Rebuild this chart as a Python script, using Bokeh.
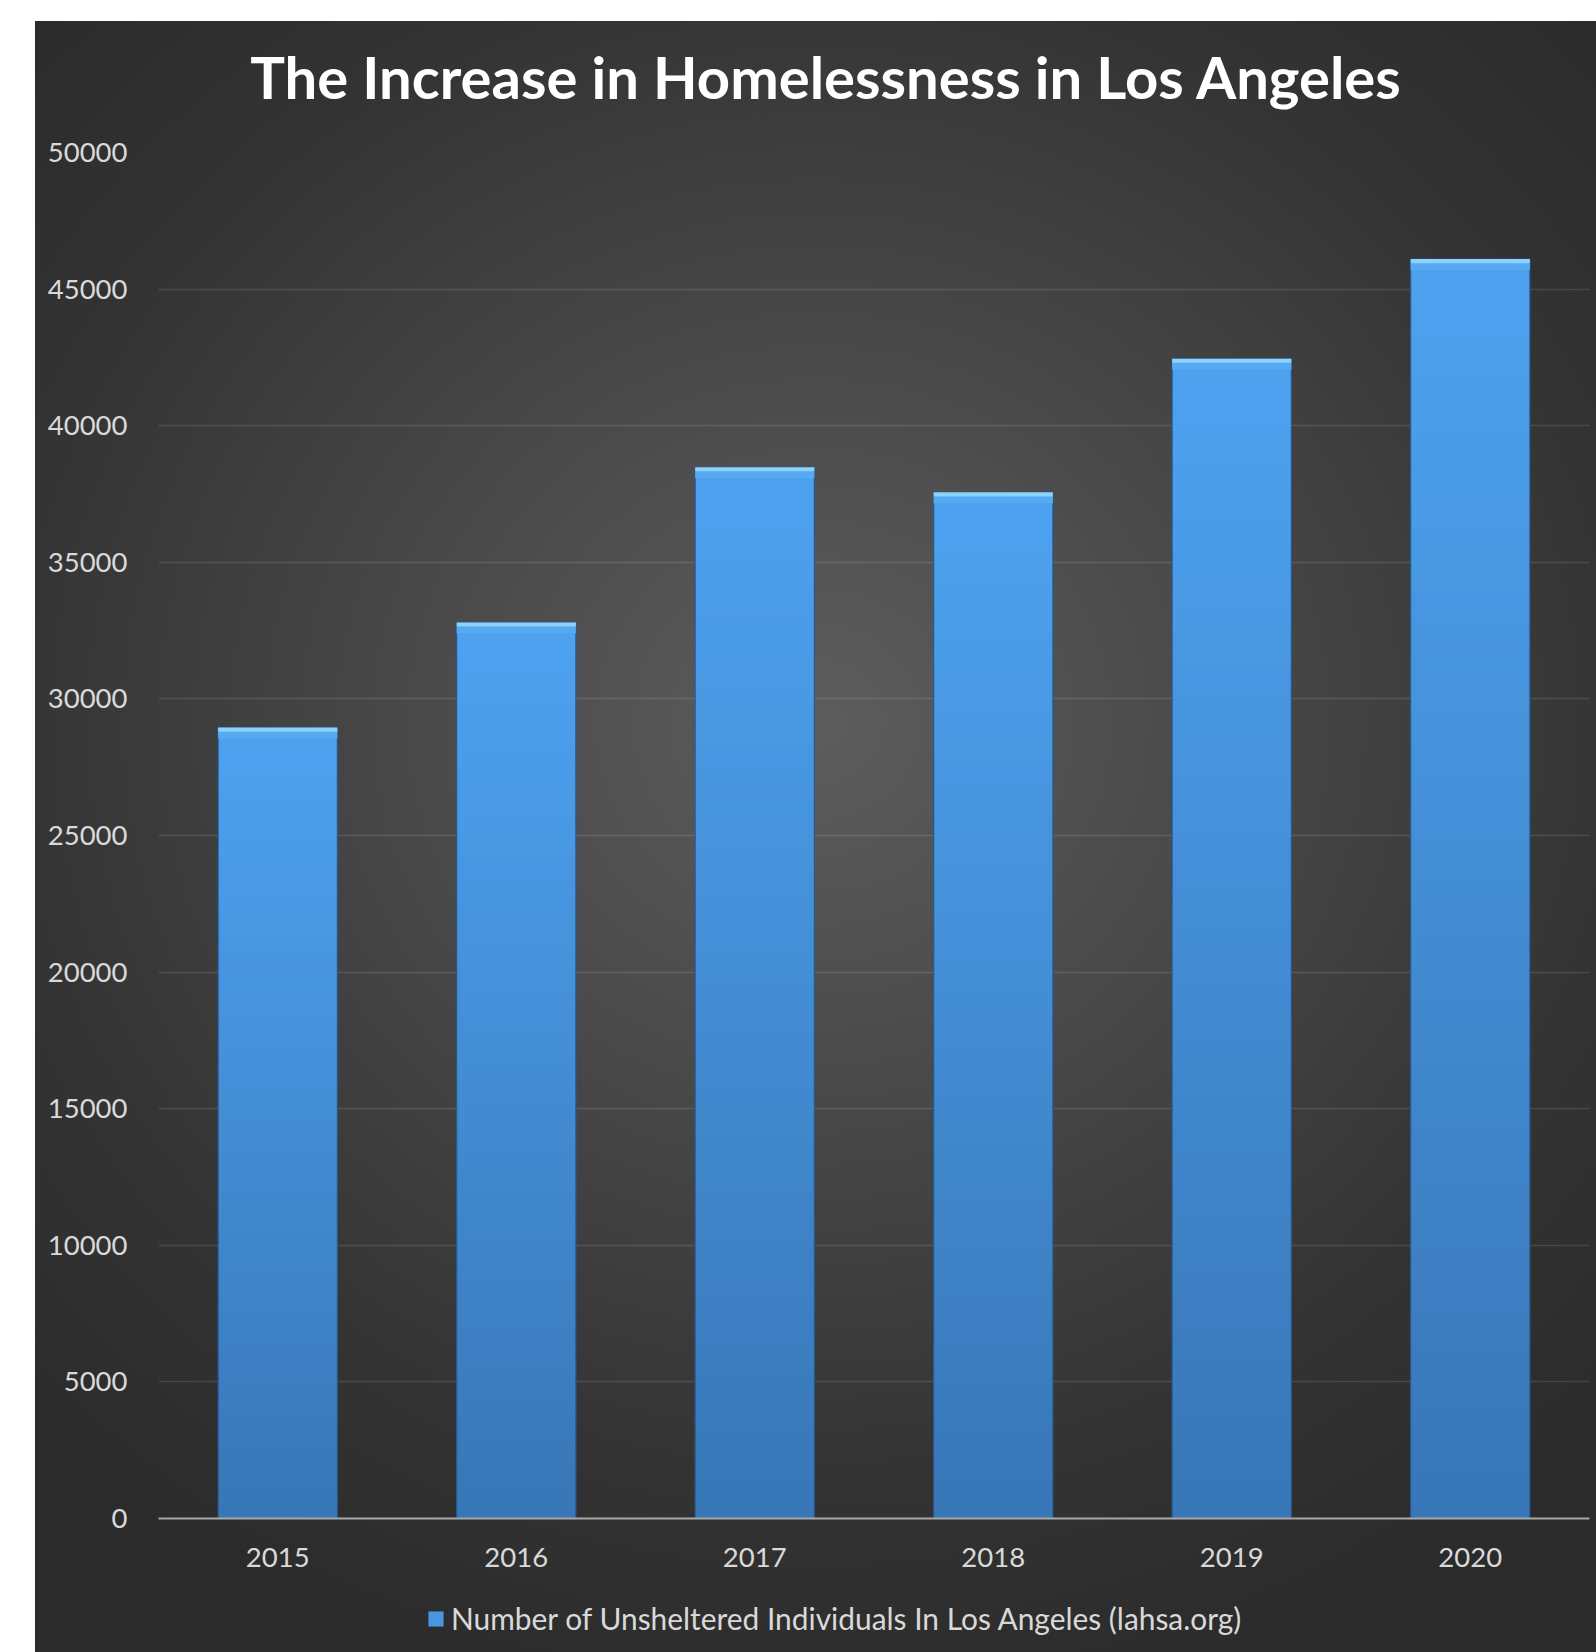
from bokeh.plotting import figure
from bokeh.layouts import column
from bokeh.models import (Range1d, FixedTicker, Legend, LegendItem, ColumnDataSource,
                          GlobalInlineStyleSheet, Label)
from bokeh.embed import file_html
from bokeh.resources import INLINE

# ---- data ----
years = ["2015", "2016", "2017", "2018", "2019", "2020"]
unsheltered = [28950, 32800, 38480, 37560, 42450, 46100]
y_ticks = [0, 5000, 10000, 15000, 20000, 25000, 30000, 35000, 40000, 45000, 50000]
title_text = "The Increase in Homelessness in Los Angeles"
series_label = "Number of Unsheltered Individuals In Los Angeles (lahsa.org)"

# ---- style ----
FONT = "Lato"
BAR_BOTTOM = (0x38, 0x76, 0xB6)
BAR_TOP = (0x4E, 0xA2, 0xF0)
N_SLICES = 40


def mix(c0, c1, t):
    return "#%02x%02x%02x" % tuple(int(round(a + (b - a) * t)) for a, b in zip(c0, c1))


# gradient slices for each bar (derived from the data values)
sx, sb, st, sc = [], [], [], []
for yr, v in zip(years, unsheltered):
    for i in range(N_SLICES):
        sx.append(yr)
        sb.append(max(0.0, v * (i - 0.5) / N_SLICES))
        st.append(v * (i + 1) / N_SLICES)
        sc.append(mix(BAR_BOTTOM, BAR_TOP, (i + 0.5) / N_SLICES))
slices = ColumnDataSource(dict(x=sx, bottom=sb, top=st, color=sc))

W = 1561
H_TITLE, H_MAIN, H_LEG = 110, 1449, 72


def strip(height):
    f = figure(x_range=Range1d(0, 1), y_range=Range1d(0, 1), width=W, height=height,
               output_backend="svg", toolbar_location=None,
               x_axis_location=None, y_axis_location=None,
               min_border=0, min_border_left=0, min_border_right=0, min_border_top=0, min_border_bottom=0)
    f.background_fill_alpha = 0
    f.border_fill_alpha = 0
    f.outline_line_color = None
    f.grid.grid_line_color = None
    return f


# ---- title strip ----
pt = strip(H_TITLE)
pt.add_layout(Label(x=668, y=55, x_units="screen", y_units="screen", text=title_text,
                    text_align="center", text_baseline="middle", text_color="#ffffff",
                    text_font=FONT, text_font_style="bold", text_font_size="58px"))

# ---- main chart ----
p = figure(x_range=years, y_range=Range1d(0, 50000), width=W, height=H_MAIN,
           output_backend="svg", toolbar_location=None,
           min_border_left=123, min_border_right=7, min_border_top=21, min_border_bottom=62)
p.background_fill_alpha = 0
p.border_fill_alpha = 0
p.outline_line_color = None

# bars
p.vbar(x="x", bottom="bottom", top="top", width=0.5, source=slices,
       fill_color="color", line_color=None)
# dark edge
p.vbar(x=years, top=unsheltered, width=0.5, fill_alpha=0, line_color="#27598c", line_width=1.2)
# top bevel highlight
p.vbar(x=years, top=[v - 150 for v in unsheltered], bottom=[v - 400 for v in unsheltered], width=0.5,
       fill_color="#56aaf1", line_color=None)
p.vbar(x=years, top=unsheltered, bottom=[v - 150 for v in unsheltered], width=0.5,
       fill_color="#8fd1fa", line_color=None)

# axes
p.yaxis.ticker = FixedTicker(ticks=y_ticks)
p.yaxis.axis_line_color = None
p.yaxis.major_tick_line_color = None
p.yaxis.minor_tick_line_color = None
p.yaxis.major_tick_out = 0
p.yaxis.major_tick_in = 0
p.yaxis.major_label_standoff = 31
p.yaxis.major_label_text_font = FONT
p.yaxis.major_label_text_font_size = "27.5px"
p.yaxis.major_label_text_color = "#d9d9d9"

p.xaxis.axis_line_color = "#a8a8a8"
p.xaxis.axis_line_width = 2
p.xaxis.major_tick_line_color = None
p.xaxis.minor_tick_line_color = None
p.xaxis.major_tick_out = 0
p.xaxis.major_tick_in = 0
p.xaxis.major_label_standoff = 29
p.xaxis.major_label_text_font = FONT
p.xaxis.major_label_text_font_size = "27.5px"
p.xaxis.major_label_text_color = "#d9d9d9"

p.xgrid.grid_line_color = None
p.ygrid.grid_line_color = "#ffffff"
p.ygrid.grid_line_alpha = 0.12
p.ygrid.grid_line_width = 1.5
p.x_range.range_padding = 0.0

# ---- legend strip (separate figure so that it is not clipped) ----
pl = strip(H_LEG)
legend_r = pl.vbar(x=[0.5], top=[0], bottom=[0], width=0.0, fill_color="#4796e0", line_color=None)
legend = Legend(items=[LegendItem(label=series_label, renderers=[legend_r])],
                orientation="horizontal", location=(268, 16),
                glyph_width=19, glyph_height=19, label_standoff=6,
                label_text_font=FONT, label_text_font_size="29.9px", label_text_color="#d9d9d9",
                background_fill_alpha=0, border_line_alpha=0, padding=0, margin=0)
pl.add_layout(legend, "center")

layout = column(pt, p, pl, spacing=0)
layout.margin = (21, 0, 0, 35)
layout.styles = {"background": "radial-gradient(ellipse 70% 62% at 50% 43%, #5d5d5d 0%, #4a4a4a 35%, #333333 75%, #2b2b2b 100%)"}
layout.stylesheets = [GlobalInlineStyleSheet(css="html, body {margin:0; padding:0; background:#ffffff;}")]

open("out.html", "w").write(file_html(layout, INLINE))
